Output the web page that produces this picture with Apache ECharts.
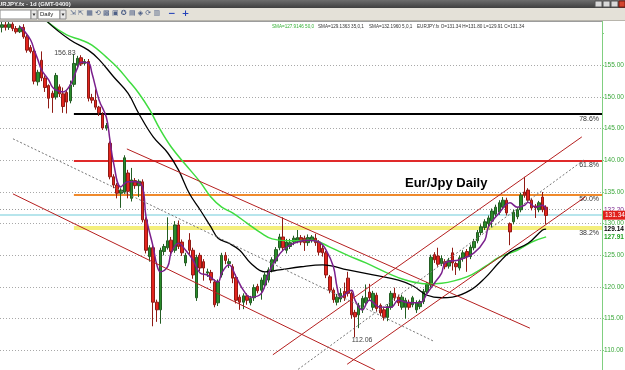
<!DOCTYPE html>
<html>
<head>
<meta charset="utf-8">
<script src="https://cdn.jsdelivr.net/npm/echarts@6/dist/echarts.min.js"></script>
<style>
html, body { margin: 0; padding: 0; background: #fff; }
#chart { width: 625px; height: 370px; }
</style>
</head>
<body>
<div id="chart"></div>
<script>
// daily candles, [open, close, low, high]
const candles = [
    [161.0,161.4,160.2,162.5],[161.4,161.0,160.5,161.9],[161.0,161.5,160.6,161.9],[161.5,160.8,160.4,161.8],
    [160.8,160.3,160.0,161.2],[160.3,160.9,160.1,161.3],[161.0,159.5,159.2,161.5],[159.5,157.4,157.0,159.8],
    [157.8,157.2,156.9,158.2],[157.2,152.5,152.0,157.5],[152.4,153.9,151.8,154.3],[155.8,153.0,152.5,157.2],
    [153.0,151.5,150.8,153.4],[151.8,149.8,148.2,152.0],[150.6,149.9,147.5,151.0],[150.0,153.4,149.6,153.8],
    [151.6,150.5,150.0,152.0],[150.5,148.5,147.5,151.5],[150.7,149.2,147.4,151.0],[149.4,151.9,149.0,152.6],
    [152.0,155.3,151.6,156.8],[155.0,156.1,154.7,156.5],[156.2,155.2,154.9,156.6],[155.3,155.6,155.0,156.0],
    [155.6,149.8,149.3,156.0],[149.9,149.5,149.0,150.5],[149.5,148.4,148.0,151.2],[148.4,147.5,147.0,148.6],
    [147.2,145.1,144.8,147.6],[145.1,145.5,144.7,145.9],[142.7,137.4,137.0,143.0],[137.4,136.1,135.6,137.8],
    [136.1,134.8,134.0,136.4],[134.8,135.3,132.5,135.6],[135.0,140.4,134.7,140.8],[138.0,135.1,134.0,138.5],
    [134.0,136.9,133.5,138.8],[136.8,136.0,135.5,137.2],[136.0,136.7,134.2,137.0],[136.6,130.6,130.2,137.0],
    [130.6,125.8,125.3,131.0],[124.8,126.2,124.0,126.6],[126.2,117.6,113.8,126.6],[117.6,116.4,114.5,118.0],
    [116.4,125.8,114.2,126.2],[125.6,126.4,125.0,126.8],[126.2,127.3,125.9,131.0],[127.4,125.6,125.0,127.9],
    [125.8,129.8,125.4,130.4],[129.8,126.4,126.0,130.5],[127.1,125.4,124.9,127.5],[123.8,125.0,123.3,125.4],
    [127.4,125.8,125.2,128.5],[125.8,121.9,121.3,126.2],[118.3,124.7,117.8,125.1],[125.0,123.0,122.5,125.4],
    [124.0,123.0,121.0,124.4],[122.2,122.4,121.6,122.9],[122.3,121.1,120.6,122.7],[120.8,117.2,116.8,121.2],
    [117.5,120.8,117.0,121.2],[121.9,125.0,121.5,125.4],[125.0,124.2,123.6,125.5],[123.7,124.0,123.0,124.5],
    [123.2,121.4,120.6,123.6],[121.5,117.9,117.4,122.0],[118.4,117.6,116.4,118.8],[117.6,118.6,116.5,119.0],
    [118.6,117.9,117.2,119.0],[117.5,118.2,117.1,118.6],[118.3,119.9,117.8,120.4],[120.1,119.4,119.0,120.5],
    [119.5,121.1,118.0,121.5],[120.3,121.9,119.8,122.3],[121.1,122.7,120.7,123.1],[122.7,124.3,122.3,124.7],
    [124.1,125.9,123.7,126.3],[126.2,127.9,125.8,128.4],[127.9,126.2,125.7,131.0],[125.8,127.1,125.3,127.6],
    [126.4,127.0,126.0,127.6],[127.1,127.7,126.6,128.1],[127.2,127.8,126.9,129.0],[127.8,127.1,126.6,128.2],
    [127.7,127.0,125.7,128.1],[127.0,127.8,126.5,128.3],[127.4,127.9,127.0,128.2],[127.7,127.0,126.5,128.4],
    [127.1,125.5,125.0,127.4],[126.1,125.4,124.8,126.5],[125.4,121.9,121.4,125.7],[121.6,119.5,119.0,121.9],
    [119.5,118.0,117.5,119.8],[117.6,118.4,117.1,118.9],[118.1,119.0,117.6,119.8],[119.3,118.3,117.8,120.7],
    [121.4,119.0,118.5,122.4],[119.0,115.6,115.0,119.3],[116.0,115.3,112.06,116.4],[115.6,117.1,113.5,117.5],
    [116.4,118.2,115.9,118.6],[117.5,118.3,117.0,120.4],[119.2,118.3,117.8,120.5],[116.8,119.0,116.3,119.4],
    [118.7,116.6,116.1,119.1],[117.1,115.9,115.4,117.4],[116.4,115.2,114.7,116.7],[115.2,116.9,114.6,117.3],
    [116.8,119.0,116.4,119.4],[119.0,118.3,117.8,119.9],[118.4,117.5,117.0,118.8],[116.8,118.4,116.4,118.8],
    [116.8,117.9,115.0,118.3],[117.6,116.8,116.4,118.0],[117.2,118.3,116.8,118.6],[116.4,117.5,115.9,117.9],
    [116.9,117.7,116.5,118.0],[117.7,119.3,117.3,119.7],[119.2,120.4,118.8,120.8],[120.3,124.7,119.9,125.1],
    [125.1,124.3,123.8,125.5],[124.9,123.6,123.2,126.2],[123.7,124.5,123.3,125.0],[124.0,123.2,122.8,124.4],
    [123.3,124.2,122.9,124.6],[125.4,123.8,122.6,126.2],[123.7,123.2,121.9,124.0],[123.0,124.6,122.6,125.0],
    [124.5,125.4,124.0,125.8],[125.6,124.8,122.4,126.0],[124.8,126.3,124.4,126.7],[126.2,127.2,125.8,127.6],
    [127.3,128.6,126.9,129.0],[128.6,129.5,128.2,129.9],[129.4,130.3,129.0,130.7],[130.0,130.9,129.6,131.3],
    [130.4,132.0,129.4,132.4],[131.5,132.6,131.1,133.0],[131.8,133.3,131.4,133.7],[132.6,133.7,132.2,134.2],
    [133.7,131.7,131.3,134.1],[130.0,128.7,126.6,130.2],[130.3,131.8,129.9,132.2],[131.1,132.2,130.7,132.6],
    [132.2,134.5,131.8,134.9],[135.0,134.5,134.1,137.4],[135.3,133.7,133.3,135.6],[133.7,132.5,132.1,134.0],
    [132.8,132.5,130.9,133.1],[132.2,133.3,131.8,133.6],[134.2,132.2,131.8,135.0],[132.6,131.3,129.9,132.9]
]
const dayCount = 167
const days = Array.from({ length: dayCount }, (_, i) => i)

// moving averages, [day index, price]
const sma5 = [
    [5,161.1],[6,160.6],[8,159.0],[9,157.4],[10,155.9],[11,154.3],[13,152.7],[14,151.6],[15,151.1],[17,150.8],
    [19,151.9],[21,154.6],[22,155.5],[24,155.4],[25,153.8],[27,149.5],[29,146.8],[30,143.2],[31,139.6],[33,135.8],
    [35,136.6],[37,136.6],[39,135.8],[40,131.1],[42,126.3],[43,123.5],[44,122.4],[46,123.2],[47,125.4],[49,126.9],
    [51,125.8],[53,124.3],[55,122.2],[57,121.9],[60,120.8],[61,122.2],[63,123.5],[65,121.6],[67,119.5],[69,118.4],
    [72,119.0],[74,122.2],[76,124.3],[78,125.8],[81,126.9],[85,127.4],[88,127.1],[90,125.8],[92,123.2],[93,120.0],
    [94,118.4],[97,119.5],[98,117.9],[100,116.4],[102,117.9],[105,116.8],[108,116.8],[110,117.9],[113,117.5],[116,117.5],
    [118,119.0],[120,120.6],[122,122.2],[123,123.8],[127,124.3],[131,125.4],[134,127.4],[135,129.5],[138,131.7],[141,133.3],
    [143,132.6],[145,132.9],[146,133.4],[148,132.6],[150,132.9],[151,132.2]
]
const sma35 = [
    [9,164.5],[13,161.7],[19,159.0],[24,157.4],[27,155.9],[31,153.2],[35,150.6],[38,147.4],[42,143.7],[46,141.2],
    [49,138.5],[52,134.8],[55,132.2],[58,129.5],[60,127.7],[63,126.9],[66,125.8],[69,123.8],[73,122.4],[77,122.7],
    [83,123.2],[89,123.5],[96,122.7],[103,121.9],[110,121.1],[114,120.2],[118,118.7],[122,118.3],[125,118.4],[130,119.5],
    [134,121.4],[138,123.9],[141,125.5],[146,126.9],[150,129.0],[151,129.14]
]
const sma50 = [
    [9,164.0],[13,161.7],[18,159.8],[22,159.0],[25,158.2],[29,156.3],[32,154.7],[35,152.7],[38,150.6],[41,148.0],
    [44,144.8],[47,142.1],[51,139.3],[55,136.6],[58,134.2],[61,132.6],[64,131.7],[68,130.1],[72,128.5],[75,127.6],
    [80,127.3],[86,127.4],[91,126.3],[96,125.0],[101,123.8],[107,122.2],[112,121.1],[118,120.5],[122,120.6],[129,121.6],
    [134,123.2],[138,124.7],[143,125.8],[147,127.1],[151,127.91]
]

// fibonacci retracement, 156.83 high to 112.06 low
const fibNames = ['78.6%', '61.8%', '50.0%', '38.2%']
const fibPrices = [147.3, 139.9, 134.6, 129.3]
const fibStart = 20

// drawn trend lines, [[day, price], [day, price]]
const channelLines = [
    [[34.7, 141.8], [146.5, 113.5]],
    [[3.1, 134.7], [103.5, 106.9]],
    [[75.2, 109.3], [160.9, 143.7]],
    [[95.8, 107.8], [161.8, 134.2]]
]
const dottedLines = [
    [[3.1, 143.4], [119.6, 111.5]],
    [[82.2, 107.0], [161.8, 140.2]]
]

const gridPrices = [110, 115, 120, 125, 130, 135, 140, 145, 150, 155]
const lastSma5 = 132.20
const lastClose = 131.34
const lastSma35 = 129.14
const lastSma50 = 127.91
const swingHigh = [20, 156.83]
const swingLow = [98, 112.06]

const chartInstance = echarts.init(document.getElementById('chart'))

const fibColors = ['#000000', '#e02a2a', '#f08a2c', '#f4ef7c']
const fibWidths = [2, 2, 2, 4]
const fibMarks = fibNames.map((name, i) => [
    {
        coord: [fibStart, fibPrices[i]],
        lineStyle: { color: fibColors[i], width: fibWidths[i], type: 'solid' },
        label: { show: true, formatter: name }
    },
    { coord: [dayCount - 0.5, fibPrices[i]] }
])
const trendMarks = channelLines.map(l => [
    { coord: l[0], lineStyle: { color: '#b51f1f', width: 1, type: 'solid' } },
    { coord: l[1] }
]).concat(dottedLines.map(l => [
    { coord: l[0], lineStyle: { color: '#777', width: 1, type: [2, 2] } },
    { coord: l[1] }
]))

const smallFont = 'Liberation Sans, Arial, sans-serif'

const option = {
    animation: false,
    backgroundColor: '#ffffff',
    grid: { left: 0, right: 23, top: 2, height: 380, outerBoundsMode: 'none', containLabel: false },
    xAxis: [
        { type: 'category', data: days, boundaryGap: true, show: false },
        { type: 'value', min: -0.5, max: dayCount - 0.5, show: false }
    ],
    yAxis: {
        type: 'value',
        position: 'right',
        min: 105,
        max: 165,
        interval: 5,
        axisLine: { show: true, onZero: false, lineStyle: { color: '#80cf80', width: 1 } },
        axisTick: { show: true, length: 2, lineStyle: { color: '#80cf80' } },
        axisLabel: {
            color: '#3aa83a',
            fontSize: 6.5,
            fontFamily: smallFont,
            margin: 2,
            formatter: v => (v >= 110 && v <= 155) ? v.toFixed(2) : ''
        },
        splitLine: { show: false }
    },
    series: [
        {
            name: 'grid',
            type: 'line',
            xAxisIndex: 1,
            data: [],
            z: 1,
            markLine: {
                silent: true,
                symbol: 'none',
                z: 1,
                label: { show: false },
                lineStyle: { color: '#a8a8a8', type: [1, 2], width: 1 },
                data: gridPrices.map(p => ({ yAxis: p }))
            }
        },
        {
            name: 'fib',
            type: 'line',
            xAxisIndex: 1,
            data: [[fibStart, fibPrices[0]]],
            symbol: 'none',
            lineStyle: { opacity: 0 },
            z: 2,
            markLine: {
                silent: true,
                symbol: 'none',
                z: 2,
                label: {
                    position: 'insideEndBottom',
                    distance: [3, 1],
                    color: '#333',
                    fontSize: 7,
                    fontFamily: smallFont
                },
                data: fibMarks.concat([
                    {
                        yAxis: lastSma5,
                        lineStyle: { color: '#9a9a9a', type: [1, 2], width: 1 },
                        label: { show: true, position: 'end', distance: 2, formatter: lastSma5.toFixed(2), color: '#7d2a8f', fontSize: 6.5 }
                    },
                    {
                        yAxis: lastClose,
                        lineStyle: { color: '#9fdde6', type: 'solid', width: 1.5 },
                        label: {
                            show: true, position: 'end', distance: 1, formatter: lastClose.toFixed(2),
                            color: '#ffffff', backgroundColor: '#e0201c', padding: [1, 2], fontSize: 6.5
                        }
                    },
                    {
                        yAxis: lastSma35,
                        lineStyle: { color: 'transparent', width: 0 },
                        label: { show: true, position: 'end', distance: 2, formatter: lastSma35.toFixed(2), color: '#000', fontSize: 6.5, fontWeight: 'bold' }
                    },
                    {
                        yAxis: lastSma50,
                        lineStyle: { color: 'transparent', width: 0 },
                        label: { show: true, position: 'end', distance: 2, formatter: lastSma50.toFixed(2), color: '#22a022', fontSize: 6.5, fontWeight: 'bold' }
                    }
                ])
            }
        },
        {
            name: 'EURJPY',
            type: 'candlestick',
            xAxisIndex: 0,
            data: candles,
            barWidth: 3,
            z: 3,
            itemStyle: {
                color: '#2a8c2a',
                color0: '#e3241e',
                borderColor: '#235d23',
                borderColor0: '#8f1b15',
                borderWidth: 1
            },
            markPoint: {
                symbol: 'circle',
                symbolSize: 0,
                silent: true,
                label: { show: true, color: '#444', fontSize: 7, fontFamily: smallFont },
                data: [
                    { coord: swingHigh, label: { formatter: '156.83', offset: [-9, -1] } },
                    { coord: swingLow, label: { formatter: '112.06', offset: [7, 3] } }
                ]
            }
        },
        {
            name: 'SMA50',
            type: 'line',
            xAxisIndex: 1,
            data: sma50,
            symbol: 'none',
            smooth: 0.4,
            z: 4,
            lineStyle: { color: '#3fdc3f', width: 1.5 }
        },
        {
            name: 'SMA35',
            type: 'line',
            xAxisIndex: 1,
            data: sma35,
            symbol: 'none',
            smooth: 0.4,
            z: 4,
            lineStyle: { color: '#000000', width: 1.3 }
        },
        {
            name: 'SMA5',
            type: 'line',
            xAxisIndex: 1,
            data: sma5,
            symbol: 'none',
            smooth: 0.4,
            z: 5,
            lineStyle: { color: '#7a1f8c', width: 1.5 }
        },
        {
            name: 'trend',
            type: 'line',
            xAxisIndex: 1,
            data: [[0, 120]],
            symbol: 'none',
            lineStyle: { opacity: 0 },
            z: 6,
            markLine: {
                silent: true,
                symbol: 'none',
                z: 6,
                label: { show: false },
                data: trendMarks
            }
        }
    ],
    graphic: [
        // plot frame top
        { type: 'line', shape: { x1: 0, y1: 21.5, x2: 602, y2: 21.5 }, style: { stroke: '#9c9c9c', lineWidth: 1 }, z: 90 },
        // window title bar
        {
            type: 'rect', shape: { x: 0, y: 0, width: 625, height: 8 }, z: 100,
            style: { fill: new echarts.graphic.LinearGradient(0, 0, 0, 1, [{ offset: 0, color: '#6d6d6d' }, { offset: 1, color: '#3f3f3f' }]) }
        },
        { type: 'text', x: -6, y: 1, z: 101, style: { text: 'EURJPY.fx - 1d (GMT-0400)', fill: '#f2f2f2', fontSize: 6, fontWeight: 'bold', fontFamily: smallFont } },
        { type: 'rect', shape: { x: 595, y: 1, width: 7, height: 6 }, z: 101, style: { fill: '#d9d9d9', stroke: '#555' } },
        { type: 'rect', shape: { x: 603, y: 1, width: 7, height: 6 }, z: 101, style: { fill: '#d9d9d9', stroke: '#555' } },
        { type: 'rect', shape: { x: 611, y: 1, width: 7, height: 6 }, z: 101, style: { fill: '#d9d9d9', stroke: '#555' } },
        { type: 'rect', shape: { x: 619, y: 1, width: 6, height: 6 }, z: 101, style: { fill: '#d3452e', stroke: '#7a1a10' } },
        // toolbar
        { type: 'rect', shape: { x: 0, y: 8, width: 625, height: 13 }, z: 100, style: { fill: '#e4e1d8' } },
        { type: 'line', shape: { x1: 0, y1: 20.5, x2: 625, y2: 20.5 }, z: 101, style: { stroke: '#b8b5ac' } },
        { type: 'rect', shape: { x: 0, y: 10, width: 31, height: 9 }, z: 101, style: { fill: '#fff', stroke: '#8a8a8a' } },
        { type: 'rect', shape: { x: 31, y: 10, width: 6, height: 9 }, z: 101, style: { fill: '#e8e8e8', stroke: '#8a8a8a' } },
        { type: 'rect', shape: { x: 38, y: 10, width: 22, height: 9 }, z: 101, style: { fill: '#fff', stroke: '#8a8a8a' } },
        { type: 'text', x: 40, y: 11.5, z: 102, style: { text: 'Daily', fill: '#222', fontSize: 6, fontFamily: smallFont } },
        { type: 'rect', shape: { x: 60, y: 10, width: 6, height: 9 }, z: 101, style: { fill: '#e8e8e8', stroke: '#8a8a8a' } },
        { type: 'polygon', shape: { points: [[32.5, 13.5], [35.5, 13.5], [34, 16]] }, z: 102, style: { fill: '#333' } },
        { type: 'polygon', shape: { points: [[61.5, 13.5], [64.5, 13.5], [63, 16]] }, z: 102, style: { fill: '#333' } },
        { type: 'text', x: 70, y: 10, z: 102, style: { text: '⇲ ⇱ ▦ ⟲ ▩ ▣ ✪ ▤ ◈ ⟳ ▥', fill: '#4d5f86', fontSize: 7, fontFamily: 'DejaVu Sans' } },
        { type: 'text', x: 168, y: 9, z: 102, style: { text: '−  +', fill: '#2442b8', fontSize: 9, fontWeight: 'bold', fontFamily: 'DejaVu Sans' } },
        // indicator status line
        { type: 'text', x: 272, y: 24, z: 102, style: { text: 'SMA=127.9146 50,0', fill: '#35b035', fontSize: 4.6, fontFamily: smallFont } },
        { type: 'text', x: 318, y: 24, z: 102, style: { text: 'SMA=129.1363 35,0,1', fill: '#333', fontSize: 4.6, fontFamily: smallFont } },
        { type: 'text', x: 369, y: 24, z: 102, style: { text: 'SMA=132.1960 5,0,1', fill: '#333', fontSize: 4.6, fontFamily: smallFont } },
        { type: 'text', x: 417, y: 24, z: 102, style: { text: 'EURJPY.fx O=131.34 H=131.80 L=129.91 C=131.34', fill: '#333', fontSize: 4.6, fontFamily: smallFont } },
        // chart caption
        { type: 'text', x: 405, y: 177, z: 102, style: { text: 'Eur/Jpy Daily', fill: '#000', fontSize: 13, fontWeight: 'bold', fontFamily: smallFont } }
    ]
}

chartInstance.setOption(option)
</script>
</body>
</html>
